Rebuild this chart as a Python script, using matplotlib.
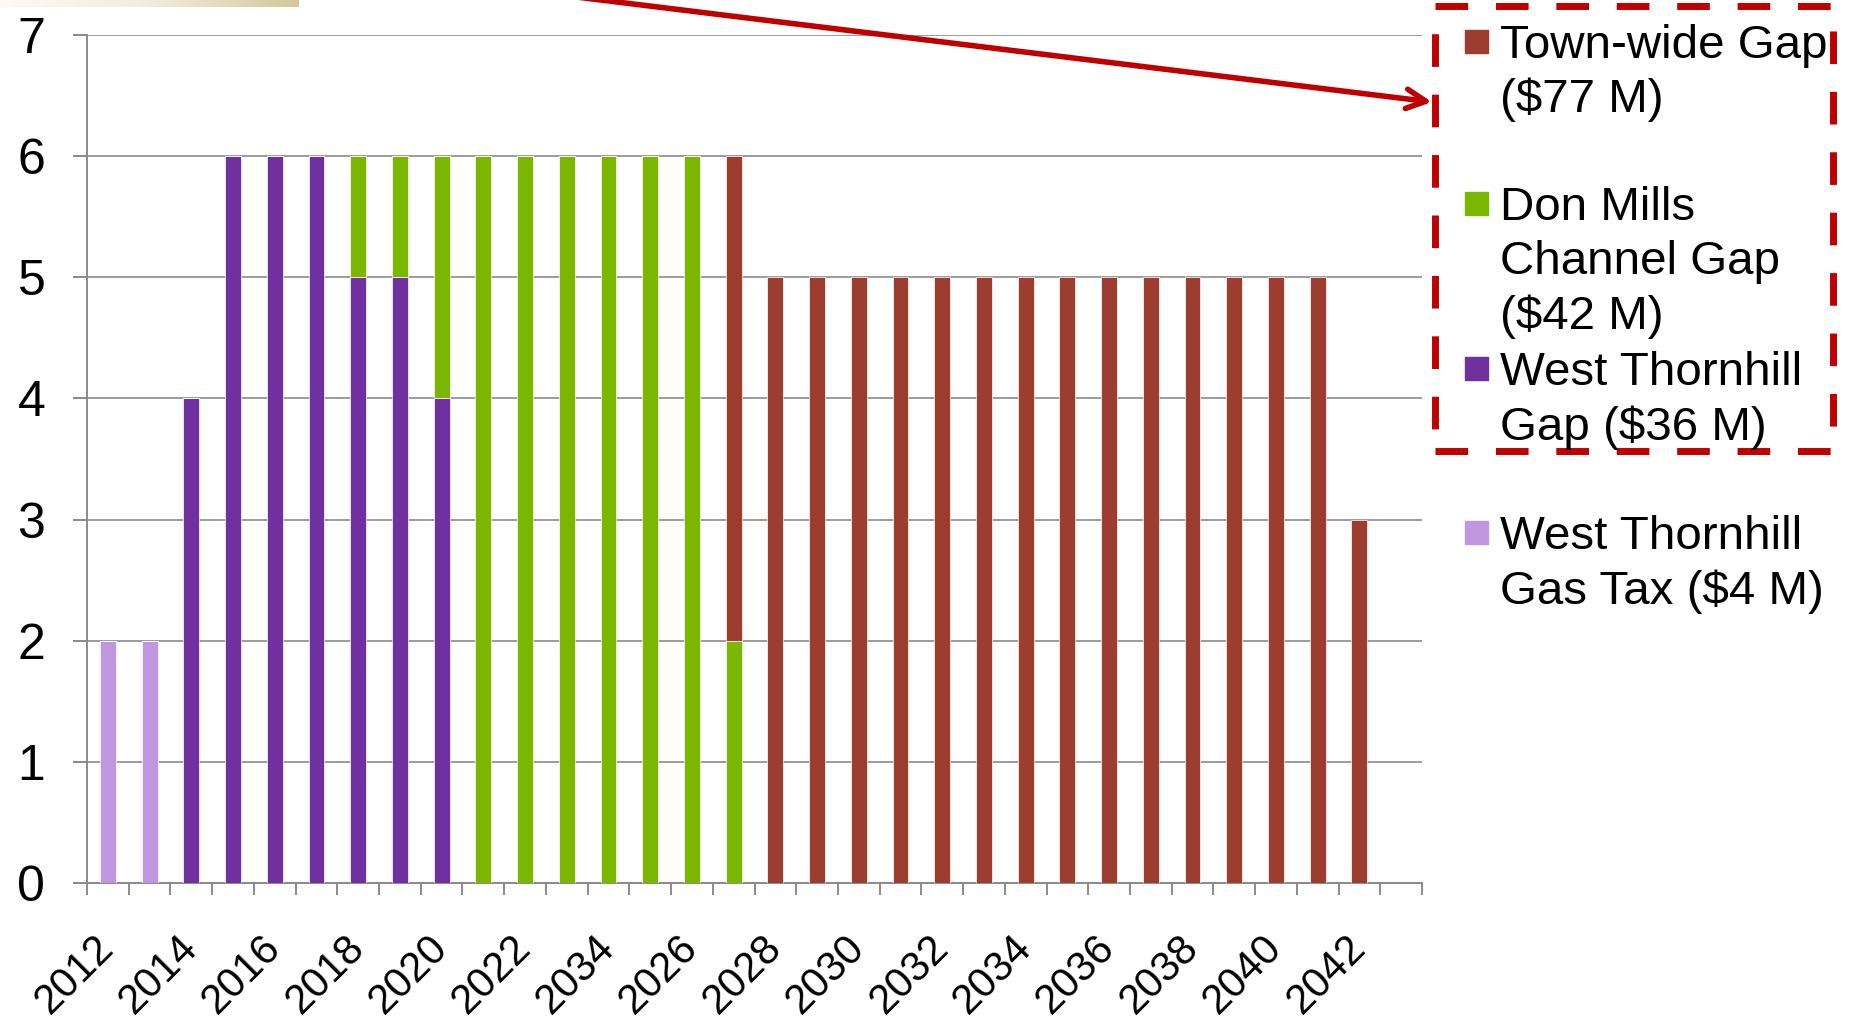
import numpy as np
import matplotlib
matplotlib.use("Agg")
import matplotlib.pyplot as plt
from matplotlib.patches import Rectangle, FancyArrowPatch
from matplotlib.colors import LinearSegmentedColormap

plt.rcParams['font.family'] = ['Liberation Sans', 'DejaVu Sans']

# ---- data ($ M per year) ---------------------------------------------
years = ['2012', '2013', '2014', '2015', '2016', '2017', '2018', '2019',
         '2020', '2021', '2022', '2023', '2034', '2025', '2026', '2027',
         '2028', '2029', '2030', '2031', '2032', '2033', '2034', '2035',
         '2036', '2037', '2038', '2039', '2040', '2041', '2042']

gas_tax = [2, 2, 0, 0, 0, 0, 0, 0, 0, 0, 0, 0, 0, 0, 0, 0,
           0, 0, 0, 0, 0, 0, 0, 0, 0, 0, 0, 0, 0, 0, 0]
wt_gap  = [0, 0, 4, 6, 6, 6, 5, 5, 4, 0, 0, 0, 0, 0, 0, 0,
           0, 0, 0, 0, 0, 0, 0, 0, 0, 0, 0, 0, 0, 0, 0]
dm_gap  = [0, 0, 0, 0, 0, 0, 1, 1, 2, 6, 6, 6, 6, 6, 6, 2,
           0, 0, 0, 0, 0, 0, 0, 0, 0, 0, 0, 0, 0, 0, 0]
tw_gap  = [0, 0, 0, 0, 0, 0, 0, 0, 0, 0, 0, 0, 0, 0, 0, 4,
           5, 5, 5, 5, 5, 5, 5, 5, 5, 5, 5, 5, 5, 5, 3]

legend_lines = [['Town-wide Gap', '($77 M)'],
                ['Don Mills', 'Channel Gap', '($42 M)'],
                ['West Thornhill', 'Gap ($36 M)'],
                ['West Thornhill', 'Gas Tax ($4 M)']]

# ---- colours ------------------------------------------------------------
C_GAS  = '#C097DE'
C_WT   = '#7030A0'
C_DM   = '#7BB600'
C_TW   = '#9C3D2F'
C_AXIS = '#8A8A8A'
C_GRID = '#9C9C9C'
C_RED  = '#C00000'

W, H = 1855, 1024
fig = plt.figure(figsize=(W / 100, H / 100), dpi=100)
fig.patch.set_facecolor('white')


def fx(x):
    return x / W


def fy(y):
    return 1 - y / H


ax = fig.add_axes([fx(87), fy(883), fx(1422) - fx(87), fy(35) - fy(883)])

x = np.arange(len(years))
bw = 0.38
kw = dict(width=bw, edgecolor='white', linewidth=0.5, zorder=3)
bottom = np.zeros(len(years))
for vals, col in [(gas_tax, C_GAS), (wt_gap, C_WT), (dm_gap, C_DM), (tw_gap, C_TW)]:
    ax.bar(x, vals, bottom=bottom, color=col, **kw)
    bottom += np.array(vals)

ax.set_xlim(-0.5, len(years) + 0.5)
ax.set_ylim(0, 7)

# y axis
ax.set_yticks(range(0, 8))
ax.tick_params(axis='y', direction='out', length=10, width=1.4, color=C_AXIS,
               labelsize=36, pad=20)
ax.yaxis.grid(True, color=C_GRID, linewidth=1.4, zorder=0)
ax.set_axisbelow(True)

# x axis: boundary ticks, labels on every other year
ax.set_xticks(np.arange(-0.5, len(years) + 1, 1))
ax.set_xticklabels([])
ax.tick_params(axis='x', which='major', direction='out', length=8.6,
               width=1.4, color=C_AXIS)
ax.set_xticks(x[::2], minor=True)
ax.set_xticklabels(years[::2], minor=True, rotation=45, ha='right',
                   va='center', rotation_mode='anchor', fontsize=30)
ax.tick_params(axis='x', which='minor', length=0, pad=42)

for s in ['top', 'right']:
    ax.spines[s].set_visible(False)
for s in ['left', 'bottom']:
    ax.spines[s].set_color(C_AXIS)
    ax.spines[s].set_linewidth(1.4)

# ---- legend, drawn by hand ------------------------------------------
legend_cols = [C_TW, C_DM, C_WT, C_GAS]
entry_tops = [41, 203, 368, 532]
line_step = 54.5
for lines, col, y0 in zip(legend_lines, legend_cols, entry_tops):
    fig.add_artist(Rectangle((fx(1465), fy(y0 + 11.5)), fx(23), 23 / H,
                             transform=fig.transFigure, color=col))
    for k, line in enumerate(lines):
        fig.text(fx(1500), fy(y0 + k * line_step + 17), line,
                 fontsize=34.2, va='baseline', ha='left', color='black')

# dashed highlight box round the first three entries
fig.add_artist(Rectangle((fx(1435), fy(451)), fx(1833) - fx(1435),
                         fy(6) - fy(451), transform=fig.transFigure,
                         fill=False, edgecolor=C_RED, linewidth=5,
                         linestyle=(0, (4.7, 4)), clip_on=False))

# pointer arrow
fig.add_artist(FancyArrowPatch((fx(560), fy(-5)), (fx(1432), fy(102)),
                               transform=fig.transFigure,
                               arrowstyle='->,head_length=0.7,head_width=0.35',
                               mutation_scale=20, color=C_RED, linewidth=4,
                               shrinkA=0, shrinkB=0, clip_on=False))

# beige strip in the top-left corner
bar_ax = fig.add_axes([0, fy(7), fx(299), 7 / H])
grad = np.linspace(0, 1, 256).reshape(1, -1)
beige = LinearSegmentedColormap.from_list('beige', ['#FCFAF3', '#F2ECDB', '#D5C69C'])
bar_ax.imshow(grad, aspect='auto', cmap=beige, extent=[0, 1, 0, 1])
bar_ax.axis('off')

fig.savefig('out.png', dpi=100, facecolor='white')
